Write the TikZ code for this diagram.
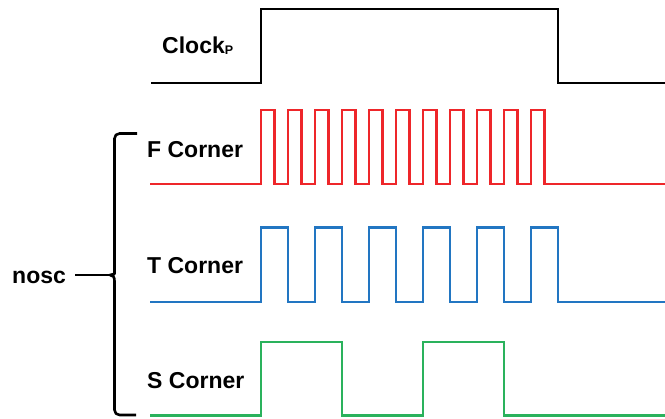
\documentclass[tikz,border=0pt]{standalone}
\usepackage{fontspec}
\setmainfont{Liberation Sans}
\begin{document}
\begin{tikzpicture}[x=1pt,y=-1pt,
  lbl/.style={font=\fontsize{23}{26}\selectfont\bfseries, inner sep=0pt, anchor=base west},
  wave/.style={line width=2.4pt, line join=miter},
  clk/.style={line width=2pt, line join=miter, black},
  brace/.style={line width=2.6pt, line join=round, black}]
\definecolor{fred}{RGB}{238,38,42}
\definecolor{tblue}{RGB}{34,118,194}
\definecolor{sgreen}{RGB}{42,178,92}
\useasboundingbox (0,0) rectangle (665,419);

% clock
\draw[clk] (151,83) -- (261,83) -- (261,9) -- (558,9) -- (558,83) -- (665,83);
\node[lbl] (clock) at (162,53.3) {Clock\raisebox{-1pt}{\fontsize{12.5}{14}\selectfont P}};

% fast corner: 11 pulses
\draw[wave, fred] (150,184)
  foreach \k in {0,...,10} { -- ({261+27*\k},184) -- ({261+27*\k},110)
    -- ({274.5+27*\k},110) -- ({274.5+27*\k},184) } -- (665,184);
\node[lbl] (fc) at (147,158) {F Corner};

% typical corner: 6 pulses
\draw[wave, tblue] (150,302)
  foreach \k in {0,...,5} { -- ({261+54*\k},302) -- ({261+54*\k},227.5)
    -- ({288+54*\k},227.5) -- ({288+54*\k},302) } -- (665,302);
\node[lbl] (tc) at (147,274) {T Corner};

% slow corner: 2 pulses
\draw[wave, sgreen] (150,415.5) -- (261,415.5) -- (261,342) -- (342,342) -- (342,415.5)
  -- (423,415.5) -- (423,342) -- (504,342) -- (504,415.5) -- (665,415.5);
\node[lbl] (sc) at (147,389) {S Corner};

% brace
\coordinate (tip) at (110,275);
\draw[brace, rounded corners=5pt] (137,133.5) -- (114.5,133.5) -- (114.5,269)
  [sharp corners] .. controls (114.5,273) and (113,275) .. (tip)
  .. controls (113,275) and (114.5,277) .. (114.5,281)
  [rounded corners=5pt] -- (114.5,415) -- (136,415);
\node[lbl] (nosc) at (12,284) {nosc};
\draw[brace] (nosc.east |- tip) ++(9,0) coordinate (nstart) (nstart) -- (tip);
\end{tikzpicture}
\end{document}
